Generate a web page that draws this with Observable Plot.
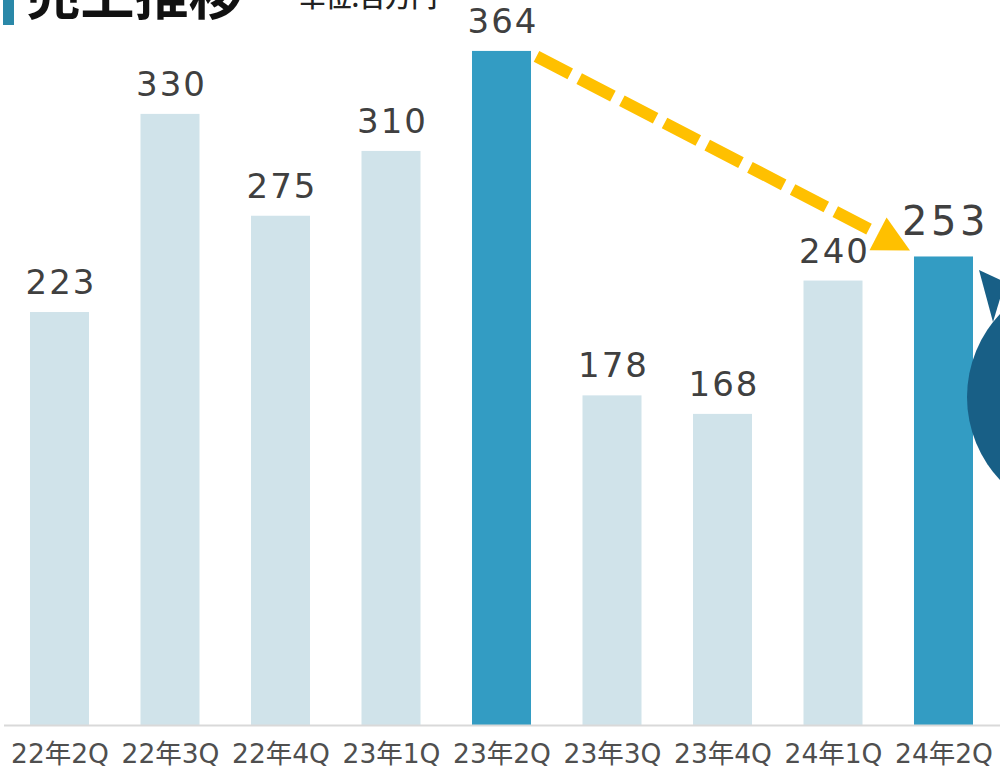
<!DOCTYPE html>
<html lang="ja">
<head>
<meta charset="utf-8">
<script src="https://cdn.jsdelivr.net/npm/d3@7"></script>
<script src="https://cdn.jsdelivr.net/npm/@observablehq/plot@0.6"></script>
<style>
  html, body { margin: 0; padding: 0; background: #fff; }
  #wrap { position: relative; width: 1000px; height: 770px; overflow: hidden; }
  #chart svg { position: absolute; left: 0; top: 0; }
  .marker { position: absolute; left: 3px; top: 0; width: 11px; height: 25px; background: #2a88a8; z-index: 2; }
  .bubble { position: absolute; left: 967px; top: 276px; width: 242px; height: 242px; border-radius: 50%; background: #185f86; z-index: 2; }
  .tail { position: absolute; left: 975px; top: 266px; width: 40px; height: 70px; background: #185f86; z-index: 2;
          clip-path: polygon(4px 4px, 30px 16px, 18px 56px); }
</style>
</head>
<body>
<div id="wrap">
  <div class="marker"></div>
  <div class="tail"></div>
  <div class="bubble"></div>
  <div id="chart"></div>
</div>
<script>
const title = "売上推移";
const subtitle = "単位:百万円";
const quarters = ["22年2Q", "22年3Q", "22年4Q", "23年1Q", "23年2Q", "23年3Q", "23年4Q", "24年1Q", "24年2Q"];
const sales = [223, 330, 275, 310, 364, 178, 168, 240, 253];
const highlighted = ["23年2Q", "24年2Q"];
const trendFrom = "23年2Q";
const trendTo = "24年2Q";

const data = quarters.map((q, i) => ({q, v: sales[i], hi: highlighted.includes(q)}));
const regular = data.filter(d => d.q !== trendTo);
const latest = data.filter(d => d.q === trendTo);

const latinFont = "'DejaVu Sans', 'Noto Sans CJK JP', sans-serif";
const cjkFont = "'Noto Sans CJK JP', 'Noto Sans', sans-serif";

function trendArrow(index, scales) {
  const {x, y} = scales;
  const bw = x.bandwidth ? x.bandwidth() : 59;
  const vFrom = sales[quarters.indexOf(trendFrom)];
  const vTo = sales[quarters.indexOf(trendTo)];
  const sx = x(trendFrom) + bw + 5.5, sy = y(vFrom) + 5.5;
  const tx = x(trendTo) - 4, ty = y(vTo) - 6;
  const dx = tx - sx, dy = ty - sy, L = Math.hypot(dx, dy);
  const ux = dx / L, uy = dy / L;
  const headLen = 36, halfW = 18.5;
  const bx = tx - ux * headLen, by = ty - uy * headLen;
  const g = d3.create("svg:g");
  g.append("line")
    .attr("x1", sx).attr("y1", sy).attr("x2", bx).attr("y2", by)
    .attr("stroke", "#ffc000").attr("stroke-width", 12)
    .attr("stroke-dasharray", "38 10.1");
  g.append("polygon")
    .attr("points", [[tx, ty], [bx - uy * halfW, by + ux * halfW], [bx + uy * halfW, by - ux * halfW]].map(p => p.join(",")).join(" "))
    .attr("fill", "#ffc000");
  return g.node();
}

const chart = Plot.plot({
  width: 1000,
  height: 770,
  marginTop: 0,
  marginBottom: 45,
  marginLeft: 0,
  marginRight: 0,
  style: {fontFamily: latinFont, background: "transparent"},
  x: {domain: quarters, range: [0, 1003], round: false, paddingInner: 0.466, paddingOuter: 0.2715, label: null},
  y: {domain: [0, 391.5], axis: null},
  marks: [
    Plot.barY(data, {x: "q", y: "v", fill: d => d.hi ? "#339cc3" : "#d0e3ea"}),
    Plot.ruleY([0], {stroke: "#d9d9d9", strokeWidth: 2, insetLeft: 4}),
    Plot.axisX({tickSize: 0, tickPadding: 19, fontSize: 26.5, fill: "#4f4f4f", label: null}),
    Plot.text(regular, {x: "q", y: "v", text: d => String(d.v), lineAnchor: "bottom",
      dy: -18.5, dx: 1, fontSize: 34, fill: "#404040"}),
    Plot.text(latest, {x: "q", y: "v", text: d => String(d.v), lineAnchor: "bottom",
      dy: -22, dx: 1.5, fontSize: 40, fill: "#404040"}),
    trendArrow,
    Plot.text([title], {frameAnchor: "top-left", textAnchor: "start", lineAnchor: "bottom",
      dx: 26, dy: 14, fontSize: 54, fontWeight: "bold", fill: "#111", fontFamily: cjkFont}),
    Plot.text([subtitle], {frameAnchor: "top-left", textAnchor: "start", lineAnchor: "bottom",
      dx: 299, dy: 6, fontSize: 26, fontWeight: 500, fill: "#222", fontFamily: cjkFont})
  ]
});
// widen the digit spacing of the value labels
d3.select(chart).selectAll("text").each(function () {
  const t = this.textContent;
  if (/^\d+$/.test(t)) {
    const fs = parseFloat(this.getAttribute("font-size") || d3.select(this.parentNode).attr("font-size"));
    this.style.letterSpacing = (fs > 36 ? 3.5 : 2) + "px";
  }
});
document.getElementById("chart").append(chart);
</script>
</body>
</html>
